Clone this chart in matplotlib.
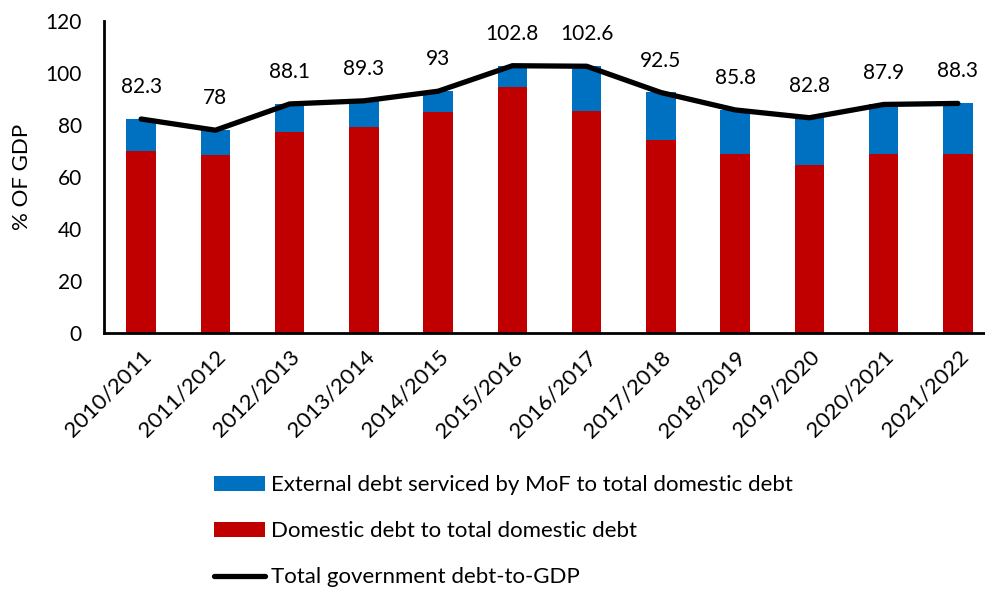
import matplotlib
matplotlib.use("Agg")
import matplotlib.pyplot as plt
import numpy as np

plt.rcParams['font.family'] = ['Lato', 'DejaVu Sans']

years = ["2010/2011", "2011/2012", "2012/2013", "2013/2014", "2014/2015", "2015/2016",
         "2016/2017", "2017/2018", "2018/2019", "2019/2020", "2020/2021", "2021/2022"]
total_debt = [82.3, 78, 88.1, 89.3, 93, 102.8, 102.6, 92.5, 85.8, 82.8, 87.9, 88.3]
domestic = [70.1, 68.5, 77.3, 79.4, 85.0, 94.7, 85.3, 74.4, 68.7, 64.7, 68.7, 68.7]
external = [round(t - d, 1) for t, d in zip(total_debt, domestic)]
total_labels = ["82.3", "78", "88.1", "89.3", "93", "102.8", "102.6", "92.5", "85.8", "82.8", "87.9", "88.3"]

RED = "#C00000"
BLUE = "#0070C0"
FS = 15

fig = plt.figure(figsize=(9.85, 5.9), dpi=100)
ax = fig.add_axes([104 / 985, 1 - 333 / 590, (995 - 104) / 985, (333 - 21) / 590])

x = np.arange(len(years))
h_dom = ax.bar(x, domestic, width=0.4, color=RED)
h_ext = ax.bar(x, external, width=0.4, bottom=domestic, color=BLUE)
h_tot, = ax.plot(x, total_debt, color="black", lw=3.8, solid_capstyle="round")

for xi, v, s in zip(x, total_debt, total_labels):
    ax.annotate(s, (xi, v), xytext=(0, 23), textcoords="offset points",
                ha="center", va="center", fontsize=FS)

ax.set_xlim(-0.5, 11.5)
ax.set_ylim(0, 120)
ax.set_yticks(range(0, 121, 20))
ax.set_xticks(x)
ax.set_xticklabels(years, rotation=45, ha="right", rotation_mode="anchor", fontsize=16)
ax.tick_params(axis="y", length=0, pad=16, labelsize=FS)
ax.tick_params(axis="x", length=0, pad=10)
ax.set_ylabel("% OF GDP", fontsize=16, labelpad=10)

for side in ("top", "right"):
    ax.spines[side].set_visible(False)
for side in ("left", "bottom"):
    ax.spines[side].set_linewidth(2)
    ax.spines[side].set_color("black")

fig.legend([h_ext, h_dom, h_tot],
           ["External debt serviced by MoF to total domestic debt",
            "Domestic debt to total domestic debt",
            "Total government debt-to-GDP"],
           loc="upper left", bbox_to_anchor=(214 / 985, 1 - 475 / 590),
           frameon=False, fontsize=16, borderpad=0, borderaxespad=0,
           handlelength=2.3, handleheight=0.65, handletextpad=0.25, labelspacing=1.18)

fig.savefig("out.png", dpi=100)
